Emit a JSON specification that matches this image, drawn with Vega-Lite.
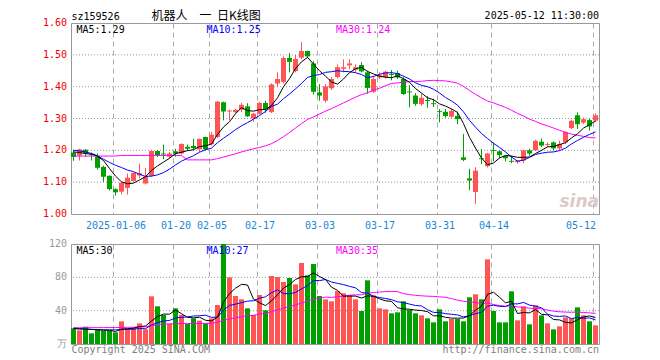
{
  "$schema": "https://vega.github.io/schema/vega-lite/v6.json",
  "background": "white",
  "padding": {"left": 42, "top": 9, "right": 5, "bottom": 5},
  "bounds": "flush",
  "spacing": 30,
  "config": {
    "view": {"stroke": "#999999", "strokeWidth": 1},
    "axis": {"labelFont": "DejaVu Sans Mono", "labelFontSize": 10, "ticks": false, "domain": false}
  },
  "datasets": {
    "k": [
      {"d":"2024-12-25","o":1.193,"h":1.202,"l":1.167,"c":1.179,"v":18.8,"m5":1.195,"m10":1.200,"m30":1.182,"vm5":18.5,"vm10":19,"vm30":19.5},
      {"d":"2024-12-26","o":1.184,"h":1.205,"l":1.168,"c":1.203,"v":16.4,"m5":1.193,"m10":1.198,"m30":1.182,"vm5":18,"vm10":18.5,"vm30":19.5},
      {"d":"2024-12-27","o":1.202,"h":1.204,"l":1.181,"c":1.190,"v":20.8,"m5":1.190,"m10":1.195,"m30":1.182,"vm5":17.8,"vm10":18,"vm30":19.6},
      {"d":"2024-12-30","o":1.189,"h":1.193,"l":1.168,"c":1.186,"v":12.8,"m5":1.188,"m10":1.190,"m30":1.182,"vm5":17.5,"vm10":17.5,"vm30":19.6},
      {"d":"2024-12-31","o":1.179,"h":1.190,"l":1.140,"c":1.145,"v":16.8,"m5":1.181,"m10":1.183,"m30":1.182,"vm5":17.1,"vm10":17.2,"vm30":19.6},
      {"d":"2025-01-02","o":1.148,"h":1.152,"l":1.101,"c":1.117,"v":16,"m5":1.168,"m10":1.172,"m30":1.182,"vm5":16.6,"vm10":17,"vm30":19.7},
      {"d":"2025-01-03","o":1.120,"h":1.121,"l":1.074,"c":1.078,"v":15.6,"m5":1.143,"m10":1.162,"m30":1.182,"vm5":16.4,"vm10":17,"vm30":19.7},
      {"d":"2025-01-06","o":1.078,"h":1.081,"l":1.058,"c":1.068,"v":14,"m5":1.119,"m10":1.153,"m30":1.182,"vm5":15.0,"vm10":17,"vm30":19.8},
      {"d":"2025-01-07","o":1.070,"h":1.101,"l":1.062,"c":1.098,"v":27.2,"m5":1.101,"m10":1.146,"m30":1.184,"vm5":17.9,"vm10":17.3,"vm30":19.9},
      {"d":"2025-01-08","o":1.082,"h":1.127,"l":1.061,"c":1.114,"v":18.8,"m5":1.095,"m10":1.138,"m30":1.184,"vm5":18.3,"vm10":17.7,"vm30":20.0},
      {"d":"2025-01-09","o":1.104,"h":1.131,"l":1.101,"c":1.129,"v":19.6,"m5":1.097,"m10":1.133,"m30":1.184,"vm5":19.0,"vm10":17.8,"vm30":20.2},
      {"d":"2025-01-10","o":1.121,"h":1.158,"l":1.112,"c":1.128,"v":24.8,"m5":1.107,"m10":1.125,"m30":1.184,"vm5":20.9,"vm10":18.6,"vm30":20.4},
      {"d":"2025-01-13","o":1.096,"h":1.145,"l":1.093,"c":1.117,"v":17.6,"m5":1.117,"m10":1.118,"m30":1.184,"vm5":21.6,"vm10":18.3,"vm30":20.6},
      {"d":"2025-01-14","o":1.120,"h":1.200,"l":1.117,"c":1.198,"v":57.2,"m5":1.137,"m10":1.119,"m30":1.184,"vm5":27.6,"vm10":22.8,"vm30":22},
      {"d":"2025-01-15","o":1.198,"h":1.200,"l":1.179,"c":1.184,"v":45.2,"m5":1.151,"m10":1.123,"m30":1.184,"vm5":32.9,"vm10":25.6,"vm30":23},
      {"d":"2025-01-16","o":1.190,"h":1.218,"l":1.172,"c":1.187,"v":34.8,"m5":1.163,"m10":1.130,"m30":1.184,"vm5":35.9,"vm10":27.5,"vm30":24},
      {"d":"2025-01-17","o":1.180,"h":1.195,"l":1.175,"c":1.190,"v":24,"m5":1.175,"m10":1.141,"m30":1.184,"vm5":35.8,"vm10":28.3,"vm30":24.2},
      {"d":"2025-01-20","o":1.197,"h":1.205,"l":1.180,"c":1.190,"v":42.8,"m5":1.190,"m10":1.154,"m30":1.184,"vm5":40.8,"vm10":31.2,"vm30":24.4},
      {"d":"2025-01-21","o":1.190,"h":1.222,"l":1.187,"c":1.220,"v":34.8,"m5":1.194,"m10":1.166,"m30":1.184,"vm5":36.3,"vm10":32.0,"vm30":24.5},
      {"d":"2025-01-22","o":1.211,"h":1.218,"l":1.198,"c":1.205,"v":24,"m5":1.199,"m10":1.175,"m30":1.170,"vm5":32.1,"vm10":32.5,"vm30":24.5},
      {"d":"2025-01-23","o":1.214,"h":1.236,"l":1.200,"c":1.207,"v":30.8,"m5":1.202,"m10":1.183,"m30":1.170,"vm5":31.3,"vm10":33.6,"vm30":24.6},
      {"d":"2025-01-24","o":1.203,"h":1.237,"l":1.195,"c":1.236,"v":28,"m5":1.212,"m10":1.194,"m30":1.170,"vm5":32.1,"vm10":33.9,"vm30":24.6},
      {"d":"2025-01-27","o":1.242,"h":1.243,"l":1.200,"c":1.203,"v":24.8,"m5":1.214,"m10":1.202,"m30":1.170,"vm5":28.5,"vm10":34.6,"vm30":24.7},
      {"d":"2025-02-05","o":1.219,"h":1.257,"l":1.215,"c":1.249,"v":30.8,"m5":1.220,"m10":1.207,"m30":1.170,"vm5":27.7,"vm10":32.0,"vm30":25},
      {"d":"2025-02-06","o":1.242,"h":1.355,"l":1.238,"c":1.353,"v":46.8,"m5":1.250,"m10":1.224,"m30":1.174,"vm5":32.2,"vm10":32.2,"vm30":26},
      {"d":"2025-02-07","o":1.351,"h":1.353,"l":1.294,"c":1.322,"v":120,"m5":1.273,"m10":1.238,"m30":1.179,"vm5":50.1,"vm10":40.7,"vm30":28.5},
      {"d":"2025-02-10","o":1.322,"h":1.328,"l":1.295,"c":1.325,"v":80,"m5":1.290,"m10":1.251,"m30":1.184,"vm5":60.5,"vm10":46.3,"vm30":30},
      {"d":"2025-02-11","o":1.320,"h":1.330,"l":1.317,"c":1.327,"v":57.6,"m5":1.315,"m10":1.265,"m30":1.189,"vm5":67.0,"vm10":47.8,"vm30":31.5},
      {"d":"2025-02-12","o":1.328,"h":1.350,"l":1.320,"c":1.343,"v":53.6,"m5":1.334,"m10":1.277,"m30":1.195,"vm5":71.6,"vm10":49.6,"vm30":32.8},
      {"d":"2025-02-13","o":1.338,"h":1.348,"l":1.305,"c":1.307,"v":42.8,"m5":1.325,"m10":1.287,"m30":1.200,"vm5":70.8,"vm10":51.5,"vm30":33.9},
      {"d":"2025-02-14","o":1.300,"h":1.318,"l":1.290,"c":1.315,"v":34.8,"m5":1.323,"m10":1.298,"m30":1.205,"vm5":53.8,"vm10":51.9,"vm30":34.4},
      {"d":"2025-02-17","o":1.315,"h":1.352,"l":1.312,"c":1.349,"v":58.8,"m5":1.328,"m10":1.309,"m30":1.209,"vm5":49.5,"vm10":55.0,"vm30":35.9},
      {"d":"2025-02-18","o":1.349,"h":1.356,"l":1.318,"c":1.328,"v":40.4,"m5":1.328,"m10":1.322,"m30":1.214,"vm5":46.1,"vm10":56.6,"vm30":36.5},
      {"d":"2025-02-19","o":1.320,"h":1.410,"l":1.317,"c":1.407,"v":81.6,"m5":1.341,"m10":1.338,"m30":1.221,"vm5":51.7,"vm10":61.6,"vm30":38.8},
      {"d":"2025-02-20","o":1.410,"h":1.445,"l":1.398,"c":1.424,"v":80.4,"m5":1.365,"m10":1.345,"m30":1.231,"vm5":59.2,"vm10":65.0,"vm30":40.9},
      {"d":"2025-02-21","o":1.415,"h":1.495,"l":1.410,"c":1.490,"v":74.4,"m5":1.400,"m10":1.362,"m30":1.243,"vm5":67.1,"vm10":60.4,"vm30":42.9},
      {"d":"2025-02-24","o":1.490,"h":1.506,"l":1.445,"c":1.478,"v":79.2,"m5":1.425,"m10":1.377,"m30":1.256,"vm5":71.2,"vm10":60.4,"vm30":45.0},
      {"d":"2025-02-25","o":1.449,"h":1.500,"l":1.445,"c":1.487,"v":71.6,"m5":1.457,"m10":1.393,"m30":1.270,"vm5":77.4,"vm10":61.8,"vm30":46.9},
      {"d":"2025-02-26","o":1.491,"h":1.540,"l":1.486,"c":1.512,"v":97.2,"m5":1.478,"m10":1.410,"m30":1.284,"vm5":80.6,"vm10":66.1,"vm30":49.2},
      {"d":"2025-02-27","o":1.512,"h":1.513,"l":1.490,"c":1.495,"v":82.4,"m5":1.492,"m10":1.429,"m30":1.297,"vm5":81.0,"vm10":70.1,"vm30":51.4},
      {"d":"2025-02-28","o":1.473,"h":1.480,"l":1.376,"c":1.384,"v":96,"m5":1.471,"m10":1.435,"m30":1.305,"vm5":85.3,"vm10":76.2,"vm30":53.9},
      {"d":"2025-03-03","o":1.382,"h":1.408,"l":1.356,"c":1.372,"v":57.6,"m5":1.450,"m10":1.438,"m30":1.314,"vm5":81.0,"vm10":76.1,"vm30":55.0},
      {"d":"2025-03-04","o":1.356,"h":1.408,"l":1.350,"c":1.401,"v":53.6,"m5":1.433,"m10":1.445,"m30":1.323,"vm5":77.4,"vm10":77.4,"vm30":56.2},
      {"d":"2025-03-05","o":1.395,"h":1.430,"l":1.390,"c":1.424,"v":51.2,"m5":1.415,"m10":1.447,"m30":1.331,"vm5":68.2,"vm10":74.4,"vm30":56.0},
      {"d":"2025-03-06","o":1.430,"h":1.470,"l":1.426,"c":1.461,"v":63.6,"m5":1.408,"m10":1.450,"m30":1.340,"vm5":64.4,"vm10":72.7,"vm30":56.6},
      {"d":"2025-03-07","o":1.456,"h":1.486,"l":1.445,"c":1.461,"v":60.8,"m5":1.424,"m10":1.448,"m30":1.349,"vm5":57.4,"vm10":71.3,"vm30":57.5},
      {"d":"2025-03-10","o":1.467,"h":1.486,"l":1.455,"c":1.473,"v":58.4,"m5":1.444,"m10":1.447,"m30":1.358,"vm5":57.5,"vm10":69.2,"vm30":58.6},
      {"d":"2025-03-11","o":1.453,"h":1.470,"l":1.445,"c":1.461,"v":53.6,"m5":1.456,"m10":1.444,"m30":1.367,"vm5":57.5,"vm10":67.4,"vm30":59.0},
      {"d":"2025-03-12","o":1.468,"h":1.477,"l":1.445,"c":1.448,"v":39.6,"m5":1.461,"m10":1.438,"m30":1.375,"vm5":55.2,"vm10":61.7,"vm30":59.1},
      {"d":"2025-03-13","o":1.445,"h":1.450,"l":1.378,"c":1.396,"v":76.4,"m5":1.448,"m10":1.428,"m30":1.381,"vm5":57.8,"vm10":61.1,"vm30":60.9},
      {"d":"2025-03-14","o":1.384,"h":1.434,"l":1.380,"c":1.424,"v":58.4,"m5":1.440,"m10":1.432,"m30":1.389,"vm5":57.3,"vm10":57.3,"vm30":61.8},
      {"d":"2025-03-17","o":1.429,"h":1.445,"l":1.424,"c":1.436,"v":42.8,"m5":1.433,"m10":1.439,"m30":1.395,"vm5":54.2,"vm10":55.8,"vm30":62.3},
      {"d":"2025-03-18","o":1.429,"h":1.450,"l":1.425,"c":1.447,"v":41.6,"m5":1.430,"m10":1.443,"m30":1.403,"vm5":51.8,"vm10":54.6,"vm30":62.9},
      {"d":"2025-03-19","o":1.440,"h":1.452,"l":1.420,"c":1.437,"v":36.8,"m5":1.428,"m10":1.444,"m30":1.410,"vm5":51.2,"vm10":53.2,"vm30":63.1},
      {"d":"2025-03-20","o":1.443,"h":1.450,"l":1.424,"c":1.429,"v":38,"m5":1.434,"m10":1.441,"m30":1.412,"vm5":43.5,"vm10":50.6,"vm30":62.8},
      {"d":"2025-03-21","o":1.424,"h":1.430,"l":1.374,"c":1.377,"v":51.2,"m5":1.425,"m10":1.433,"m30":1.414,"vm5":42.1,"vm10":49.7,"vm30":60.5},
      {"d":"2025-03-24","o":1.385,"h":1.405,"l":1.335,"c":1.382,"v":40.8,"m5":1.414,"m10":1.424,"m30":1.416,"vm5":41.7,"vm10":47.9,"vm30":59.2},
      {"d":"2025-03-25","o":1.372,"h":1.380,"l":1.340,"c":1.346,"v":36.8,"m5":1.394,"m10":1.412,"m30":1.416,"vm5":40.7,"vm10":46.2,"vm30":58.5},
      {"d":"2025-03-26","o":1.345,"h":1.378,"l":1.340,"c":1.365,"v":34.4,"m5":1.380,"m10":1.404,"m30":1.417,"vm5":40.2,"vm10":45.7,"vm30":57.8},
      {"d":"2025-03-27","o":1.358,"h":1.371,"l":1.334,"c":1.355,"v":30.8,"m5":1.365,"m10":1.400,"m30":1.419,"vm5":38.8,"vm10":41.2,"vm30":57.4},
      {"d":"2025-03-28","o":1.348,"h":1.362,"l":1.336,"c":1.345,"v":26,"m5":1.359,"m10":1.392,"m30":1.420,"vm5":33.8,"vm10":37.9,"vm30":57.1},
      {"d":"2025-03-31","o":1.323,"h":1.330,"l":1.288,"c":1.320,"v":41.6,"m5":1.346,"m10":1.380,"m30":1.419,"vm5":33.9,"vm10":37.8,"vm30":56.6},
      {"d":"2025-04-01","o":1.321,"h":1.330,"l":1.303,"c":1.308,"v":27.2,"m5":1.339,"m10":1.366,"m30":1.418,"vm5":32.0,"vm10":36.4,"vm30":56.1},
      {"d":"2025-04-02","o":1.306,"h":1.330,"l":1.302,"c":1.324,"v":30,"m5":1.330,"m10":1.355,"m30":1.415,"vm5":31.1,"vm10":35.7,"vm30":54.4},
      {"d":"2025-04-03","o":1.308,"h":1.322,"l":1.282,"c":1.298,"v":30,"m5":1.319,"m10":1.342,"m30":1.411,"vm5":31.0,"vm10":34.9,"vm30":52.7},
      {"d":"2025-04-07","o":1.178,"h":1.251,"l":1.166,"c":1.170,"v":27.2,"m5":1.284,"m10":1.321,"m30":1.401,"vm5":31.2,"vm10":32.5,"vm30":51.2},
      {"d":"2025-04-08","o":1.112,"h":1.142,"l":1.075,"c":1.105,"v":56,"m5":1.241,"m10":1.294,"m30":1.388,"vm5":34.1,"vm10":34.0,"vm30":50.4},
      {"d":"2025-04-09","o":1.069,"h":1.147,"l":1.032,"c":1.136,"v":59.6,"m5":1.207,"m10":1.273,"m30":1.376,"vm5":40.6,"vm10":36.3,"vm30":50.0},
      {"d":"2025-04-10","o":1.175,"h":1.204,"l":1.157,"c":1.172,"v":53.6,"m5":1.176,"m10":1.253,"m30":1.365,"vm5":45.3,"vm10":38.2,"vm30":48.5},
      {"d":"2025-04-11","o":1.150,"h":1.192,"l":1.146,"c":1.190,"v":101.6,"m5":1.155,"m10":1.237,"m30":1.355,"vm5":59.6,"vm10":45.3,"vm30":49.2},
      {"d":"2025-04-14","o":1.201,"h":1.225,"l":1.165,"c":1.198,"v":39.6,"m5":1.160,"m10":1.222,"m30":1.349,"vm5":62.1,"vm10":46.6,"vm30":47.3},
      {"d":"2025-04-15","o":1.197,"h":1.200,"l":1.175,"c":1.185,"v":26,"m5":1.176,"m10":1.209,"m30":1.342,"vm5":56.1,"vm10":45.1,"vm30":46.2},
      {"d":"2025-04-16","o":1.182,"h":1.185,"l":1.165,"c":1.175,"v":26,"m5":1.184,"m10":1.195,"m30":1.335,"vm5":49.4,"vm10":45.0,"vm30":45.3},
      {"d":"2025-04-17","o":1.167,"h":1.183,"l":1.160,"c":1.164,"v":63.2,"m5":1.182,"m10":1.179,"m30":1.326,"vm5":51.3,"vm10":48.3,"vm30":45.7},
      {"d":"2025-04-18","o":1.163,"h":1.170,"l":1.158,"c":1.167,"v":28.4,"m5":1.178,"m10":1.166,"m30":1.316,"vm5":36.6,"vm10":48.1,"vm30":44.5},
      {"d":"2025-04-21","o":1.168,"h":1.200,"l":1.160,"c":1.200,"v":45.2,"m5":1.178,"m10":1.169,"m30":1.308,"vm5":37.8,"vm10":49.9,"vm30":44.0},
      {"d":"2025-04-22","o":1.200,"h":1.205,"l":1.183,"c":1.190,"v":23.6,"m5":1.179,"m10":1.178,"m30":1.298,"vm5":37.3,"vm10":46.7,"vm30":42.9},
      {"d":"2025-04-23","o":1.200,"h":1.233,"l":1.198,"c":1.230,"v":46.4,"m5":1.190,"m10":1.187,"m30":1.291,"vm5":41.4,"vm10":45.4,"vm30":42.6},
      {"d":"2025-04-24","o":1.227,"h":1.237,"l":1.210,"c":1.215,"v":34.4,"m5":1.200,"m10":1.191,"m30":1.283,"vm5":35.6,"vm10":43.4,"vm30":42.5},
      {"d":"2025-04-25","o":1.217,"h":1.225,"l":1.210,"c":1.220,"v":24.8,"m5":1.211,"m10":1.194,"m30":1.277,"vm5":34.9,"vm10":35.8,"vm30":40.7},
      {"d":"2025-04-28","o":1.225,"h":1.228,"l":1.200,"c":1.206,"v":17.6,"m5":1.212,"m10":1.195,"m30":1.270,"vm5":29.4,"vm10":33.6,"vm30":39.4},
      {"d":"2025-04-29","o":1.206,"h":1.230,"l":1.200,"c":1.220,"v":21.2,"m5":1.218,"m10":1.199,"m30":1.263,"vm5":28.9,"vm10":33.1,"vm30":38.7},
      {"d":"2025-04-30","o":1.225,"h":1.260,"l":1.220,"c":1.258,"v":32,"m5":1.224,"m10":1.207,"m30":1.256,"vm5":26.0,"vm10":33.7,"vm30":38.3},
      {"d":"2025-05-06","o":1.270,"h":1.296,"l":1.267,"c":1.293,"v":30.8,"m5":1.239,"m10":1.220,"m30":1.251,"vm5":25.3,"vm10":30.4,"vm30":38.1},
      {"d":"2025-05-07","o":1.310,"h":1.319,"l":1.267,"c":1.282,"v":44,"m5":1.252,"m10":1.231,"m30":1.247,"vm5":29.1,"vm10":32.0,"vm30":38.3},
      {"d":"2025-05-08","o":1.287,"h":1.303,"l":1.283,"c":1.298,"v":34.4,"m5":1.270,"m10":1.241,"m30":1.244,"vm5":32.5,"vm10":30.9,"vm30":37.8},
      {"d":"2025-05-09","o":1.295,"h":1.300,"l":1.262,"c":1.275,"v":27.2,"m5":1.281,"m10":1.250,"m30":1.240,"vm5":33.7,"vm10":31.3,"vm30":37.3},
      {"d":"2025-05-12","o":1.293,"h":1.316,"l":1.290,"c":1.310,"v":22.4,"m5":1.292,"m10":1.258,"m30":1.239,"vm5":31.8,"vm10":28.9,"vm30":36.8}
    ],
    "pticks": [{"t":1.0},{"t":1.1},{"t":1.2},{"t":1.3},{"t":1.4},{"t":1.5},{"t":1.6}],
    "pgrid": [{"t":1.1},{"t":1.2},{"t":1.3},{"t":1.4},{"t":1.5}],
    "vticks": [{"t":0},{"t":40},{"t":80},{"t":120}],
    "vgrid": [{"t":40},{"t":80}]
  },
  "vconcat": [
    {
      "width": 528,
      "height": 191,
      "encoding": {
        "x": {
          "field": "d", "type": "ordinal",
          "scale": {"type": "band", "paddingInner": 0, "paddingOuter": 0},
          "axis": {
            "title": null,
            "values": ["2025-01-06","2025-01-20","2025-02-05","2025-02-17","2025-03-03","2025-03-17","2025-03-31","2025-04-14","2025-05-12"],
            "bandPosition": 0,
            "labelAngle": 0,
            "labelOverlap": false,
            "labelExpr": "datum.value == '2025-01-06' ? datum.value : slice(datum.value, 5)",
            "labelAlign": {"condition": {"test": "datum.value == '2025-05-12'", "value": "right"}, "value": "center"},
            "labelColor": "#1a88d6",
            "labelPadding": 6,
            "grid": true,
            "gridColor": "#aaaaaa",
            "gridDash": [5, 4]
          }
        }
      },
      "layer": [
        {
          "data": {"name": "pgrid"},
          "mark": {"type": "rule", "color": "#999999", "strokeWidth": 1, "strokeDash": [1, 2]},
          "encoding": {"x": null, "y": {"field": "t", "type": "quantitative", "scale": {"domain": [1.0, 1.6], "zero": false, "nice": false}, "axis": null}}
        },
        {
          "data": {"name": "pticks"},
          "mark": {"type": "text", "align": "right", "baseline": "middle", "dx": -7, "font": "DejaVu Sans Mono", "fontSize": 10, "color": "#ee0000"},
          "encoding": {
            "x": {"datum": "2024-12-25"},
            "y": {"field": "t", "type": "quantitative", "axis": null},
            "text": {"field": "t", "type": "quantitative", "format": ".2f"}
          }
        },
        {
          "data": {"name": "k"},
          "mark": {"type": "rule", "strokeWidth": 1, "xOffset": -0.5},
          "encoding": {
            "y": {"field": "l", "type": "quantitative", "axis": null},
            "y2": {"field": "h"},
            "color": {"condition": {"test": "datum.c >= datum.o", "value": "#ff5555"}, "value": "#009f00"}
          }
        },
        {
          "data": {"name": "k"},
          "mark": {"type": "bar", "width": 5, "xOffset": -0.5},
          "encoding": {
            "y": {"field": "o", "type": "quantitative", "axis": null},
            "y2": {"field": "c"},
            "color": {"condition": {"test": "datum.c >= datum.o", "value": "#ff5555"}, "value": "#009f00"}
          }
        },
        {
          "data": {"name": "k"},
          "mark": {"type": "line", "color": "#ff00ff", "strokeWidth": 1, "xOffset": -0.5},
          "encoding": {"y": {"field": "m30", "type": "quantitative", "axis": null}}
        },
        {
          "data": {"name": "k"},
          "mark": {"type": "line", "color": "#0000ff", "strokeWidth": 1, "xOffset": -0.5},
          "encoding": {"y": {"field": "m10", "type": "quantitative", "axis": null}}
        },
        {
          "data": {"name": "k"},
          "mark": {"type": "line", "color": "#000000", "strokeWidth": 1, "xOffset": -0.5},
          "encoding": {"y": {"field": "m5", "type": "quantitative", "axis": null}}
        },
        {
          "data": {"values": [{}]},
          "mark": {"type": "text", "text": "sina", "align": "right", "baseline": "bottom", "dx": 3, "dy": -3, "font": "DejaVu Sans", "fontSize": 17, "fontWeight": "bold", "fontStyle": "italic", "color": "#dccaca"},
          "encoding": {"x": {"datum": "2025-05-12"}, "y": {"datum": 1.0}}
        },
        {
          "data": {"values": [{}]},
          "mark": {"type": "text", "text": "MA5:1.29", "align": "left", "baseline": "alphabetic", "dx": 2.5, "dy": 9.5, "font": "DejaVu Sans Mono", "fontSize": 10, "color": "#000000"},
          "encoding": {"x": {"datum": "2024-12-25"}, "y": {"datum": 1.6}}
        },
        {
          "data": {"values": [{}]},
          "mark": {"type": "text", "text": "MA10:1.25", "align": "left", "baseline": "alphabetic", "dx": 0.5, "dy": 9.5, "font": "DejaVu Sans Mono", "fontSize": 10, "color": "#0000ff"},
          "encoding": {"x": {"datum": "2025-01-27"}, "y": {"datum": 1.6}}
        },
        {
          "data": {"values": [{}]},
          "mark": {"type": "text", "text": "MA30:1.24", "align": "left", "baseline": "alphabetic", "dx": 4, "dy": 9.5, "font": "DejaVu Sans Mono", "fontSize": 10, "color": "#ff00ff"},
          "encoding": {"x": {"datum": "2025-03-05"}, "y": {"datum": 1.6}}
        },
        {
          "data": {"values": [{}]},
          "mark": {"type": "text", "text": "sz159526", "align": "left", "baseline": "alphabetic", "dx": -2.5, "dy": -3.5, "font": "DejaVu Sans Mono", "fontSize": 10, "color": "#000000"},
          "encoding": {"x": {"datum": "2024-12-25"}, "y": {"datum": 1.6}}
        },
        {
          "data": {"values": [{}]},
          "mark": {"type": "text", "text": "机器人　一\u00a0\u00a0日K线图", "align": "left", "baseline": "alphabetic", "dx": -0.5, "dy": -3.5, "font": "Noto Sans CJK SC", "fontSize": 12, "color": "#000000"},
          "encoding": {"x": {"datum": "2025-01-14"}, "y": {"datum": 1.6}}
        },
        {
          "data": {"values": [{}]},
          "mark": {"type": "text", "text": "2025-05-12 11:30:00", "align": "right", "baseline": "alphabetic", "dx": 3, "dy": -4, "font": "DejaVu Sans Mono", "fontSize": 10, "color": "#000000"},
          "encoding": {"x": {"datum": "2025-05-12"}, "y": {"datum": 1.6}}
        }
      ]
    },
    {
      "width": 528,
      "height": 100,
      "encoding": {
        "x": {
          "field": "d", "type": "ordinal",
          "scale": {"type": "band", "paddingInner": 0, "paddingOuter": 0},
          "axis": {
            "title": null,
            "values": ["2025-01-06","2025-01-20","2025-02-05","2025-02-17","2025-03-03","2025-03-17","2025-03-31","2025-04-14","2025-05-12"],
            "bandPosition": 0,
            "labels": false,
            "grid": true,
            "gridColor": "#aaaaaa",
            "gridDash": [5, 4]
          }
        }
      },
      "layer": [
        {
          "data": {"name": "vgrid"},
          "mark": {"type": "rule", "color": "#999999", "strokeWidth": 1, "strokeDash": [1, 2]},
          "encoding": {"x": null, "y": {"field": "t", "type": "quantitative", "scale": {"domain": [0, 120], "nice": false}, "axis": null}}
        },
        {
          "data": {"name": "vticks"},
          "mark": {"type": "text", "align": "right", "baseline": "middle", "dx": -7, "font": "DejaVu Sans Mono", "fontSize": 10, "color": "#999999"},
          "encoding": {
            "x": {"datum": "2024-12-25"},
            "y": {"field": "t", "type": "quantitative", "axis": null},
            "text": {"condition": {"test": "datum.t == 0", "value": "万"}, "field": "t", "type": "quantitative"}
          }
        },
        {
          "data": {"name": "k"},
          "mark": {"type": "bar", "width": 5, "xOffset": -0.5},
          "encoding": {
            "y": {"field": "v", "type": "quantitative", "axis": null},
            "color": {"condition": {"test": "datum.c >= datum.o", "value": "#ff5555"}, "value": "#009f00"}
          }
        },
        {
          "data": {"name": "k"},
          "mark": {"type": "line", "color": "#ff00ff", "strokeWidth": 1, "xOffset": -0.5},
          "encoding": {"y": {"field": "vm30", "type": "quantitative", "axis": null}}
        },
        {
          "data": {"name": "k"},
          "mark": {"type": "line", "color": "#0000ff", "strokeWidth": 1, "xOffset": -0.5},
          "encoding": {"y": {"field": "vm10", "type": "quantitative", "axis": null}}
        },
        {
          "data": {"name": "k"},
          "mark": {"type": "line", "color": "#000000", "strokeWidth": 1, "xOffset": -0.5},
          "encoding": {"y": {"field": "vm5", "type": "quantitative", "axis": null}}
        },
        {
          "data": {"values": [{}]},
          "mark": {"type": "text", "text": "MA5:30", "align": "left", "baseline": "alphabetic", "dx": 2.5, "dy": 9.5, "font": "DejaVu Sans Mono", "fontSize": 10, "color": "#000000"},
          "encoding": {"x": {"datum": "2024-12-25"}, "y": {"datum": 120}}
        },
        {
          "data": {"values": [{}]},
          "mark": {"type": "text", "text": "MA10:27", "align": "left", "baseline": "alphabetic", "dx": 0.5, "dy": 9.5, "font": "DejaVu Sans Mono", "fontSize": 10, "color": "#0000ff"},
          "encoding": {"x": {"datum": "2025-01-27"}, "y": {"datum": 120}}
        },
        {
          "data": {"values": [{}]},
          "mark": {"type": "text", "text": "MA30:35", "align": "left", "baseline": "alphabetic", "dx": 4, "dy": 9.5, "font": "DejaVu Sans Mono", "fontSize": 10, "color": "#ff00ff"},
          "encoding": {"x": {"datum": "2025-03-05"}, "y": {"datum": 120}}
        },
        {
          "data": {"values": [{}]},
          "mark": {"type": "text", "text": "Copyright 2025 SINA.COM", "align": "left", "baseline": "alphabetic", "dx": -2.5, "dy": 8.5, "font": "DejaVu Sans Mono", "fontSize": 10, "color": "#808080"},
          "encoding": {"x": {"datum": "2024-12-25"}, "y": {"datum": 0}}
        },
        {
          "data": {"values": [{}]},
          "mark": {"type": "text", "text": "http://finance.sina.com.cn", "align": "right", "baseline": "alphabetic", "dx": 3, "dy": 8.5, "font": "DejaVu Sans Mono", "fontSize": 10, "color": "#808080"},
          "encoding": {"x": {"datum": "2025-05-12"}, "y": {"datum": 0}}
        }
      ]
    }
  ]
}
